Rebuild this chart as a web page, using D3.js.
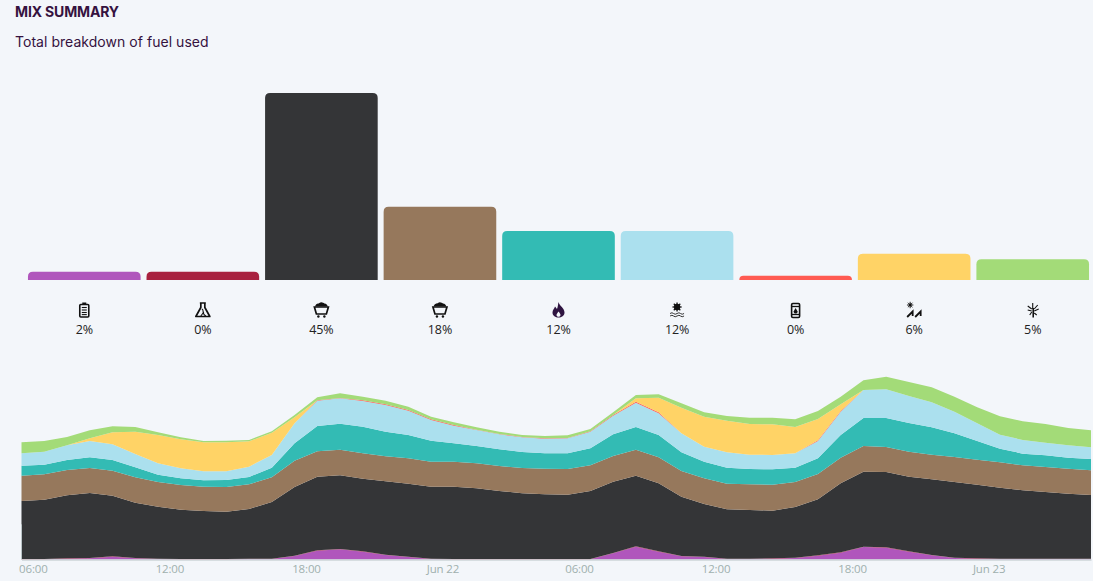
<!DOCTYPE html>
<html><head><meta charset="utf-8">
<script src="https://cdn.jsdelivr.net/npm/d3@7"></script>
<style>
html,body{margin:0;padding:0;background:#f3f6fa;overflow:hidden}
svg{display:block}
</style></head><body><svg id="c" width="1093" height="581"></svg>
<script>
const categories=["battery","chemical","coal","lignite","gas","hydro","oil","solar","wind"];
const sharePct=[2,2,45,17.6,11.8,11.8,1,6.3,5];
const shareLabels=["2%","0%","45%","18%","12%","12%","0%","6%","5%"];
const colors=["#b056bc","#a8213f","#343537","#96785c","#33bbb4","#abe0ee","#ff5b52","#ffd366","#a3db78"];
const tickHours=[6,12,18,24,30,36,42,48];
const tickLabels=["06:00","12:00","18:00","Jun 22","06:00","12:00","18:00","Jun 23"];
const battery=[0,0,2,3,8,3,1,0,0,0,1,1,10,26,30,23,13,7,1,0,0,0,0,0,0,0,18,38,23,9,7,1,1,2,4,11,20,37,35,23,12,4,2,1,1,1,1,1];
const chemical=[1,1,1,1,1,1,1,1,1,1,1,1,1,1,1,1,1,1,1,1,1,1,1,1,1,1,1,1,1,1,1,1,1,1,1,1,1,1,1,1,1,1,1,1,1,1,1,1];
const coal=[174,178,189,195,182,166,156,148,144,142,149,170,206,221,221,218,220,219,216,217,212,204,197,194,193,204,214,212,204,178,158,148,146,143,152,168,207,225,226,224,227,227,221,213,205,200,195,191];
const lignite=[76,76,76,75,75,76,74,74,73,74,74,74,79,76,77,76,75,76,75,75,75,75,76,77,77,77,77,78,78,77,77,77,77,78,75,76,77,77,75,75,74,75,75,76,75,75,75,74];
const gas=[30,29,30,32,32,30,22,20,19,21,22,29,52,76,78,80,74,70,63,55,52,50,48,46,47,51,65,68,67,56,50,48,46,46,43,47,68,84,87,86,82,71,56,41,35,35,33,34];
const hydro=[37,39,44,49,47,40,34,30,27,26,31,38,60,76,76,77,80,73,62,53,48,45,44,44,45,50,56,73,65,57,45,46,43,43,43,52,70,84,86,81,75,65,53,42,41,38,37,35];
const oil=[0,0,0,0,0,0,0,0,0,0,0,0,0,1,1,2,2,2,2,2,1,1,1,1,1,1,2,3,3,0,0,0,0,0,0,2,2,0,0,0,0,0,0,0,0,0,0,0];
const solar=[0,0,0,8,36,67,85,87,87,87,76,67,18,0,0,0,0,0,0,0,0,0,0,0,0,0,0,10,44,77,90,95,92,92,79,64,20,0,0,0,0,0,0,0,0,0,0,0];
const wind=[33,32,25,24,18,14,8,6,4,5,4,4,7,9,14,11,11,10,8,8,7,7,6,7,8,7,8,10,10,13,13,14,19,20,23,24,23,29,38,42,45,45,48,55,56,56,52,51];
const hours=battery.map((_,i)=>5.5+i);
const seriesArr=[battery,chemical,coal,lignite,gas,hydro,oil,solar,wind];

const svg=d3.select("#c");
const titleFont="Inter, 'Noto Sans', sans-serif";
svg.append("text").attr("x",15).attr("y",17).attr("fill","#35123f").attr("font-family",titleFont).attr("font-weight",700).attr("font-size",14).attr("letter-spacing",-0.15).text("MIX SUMMARY");
svg.append("text").attr("x",15).attr("y",47).attr("fill","#35123f").attr("font-family",titleFont).attr("font-size",14).attr("letter-spacing",0.04).text("Total breakdown of fuel used");

// bars
const xBar=d3.scaleBand().domain(categories).range([25,1092]).paddingInner(0.05).paddingOuter(0.025);
const yBar=d3.scaleLinear().domain([0,45]).range([280,93]);
const r=5;
svg.append("g").selectAll("path").data(categories).join("path")
 .attr("fill",(d,i)=>colors[i])
 .attr("d",(d,i)=>{const x0=xBar(d),x1=x0+xBar.bandwidth(),y0=yBar(0),y1=yBar(sharePct[i]);const q=Math.min(r,y0-y1);
   return `M${x0},${y0}V${y1+q}Q${x0},${y1} ${x0+q},${y1}H${x1-q}Q${x1},${y1} ${x1},${y1+q}V${y0}Z`;});

// icons
const icons={
 battery:g=>{g.append("rect").attr("x",-4.5).attr("y",-5.5).attr("width",9).attr("height",12.5).attr("rx",1).attr("fill","none").attr("stroke","#111").attr("stroke-width",1.6);
   g.append("rect").attr("x",-2).attr("y",-7.5).attr("width",4).attr("height",2).attr("fill","#111");
   [-2.5,0,2.5,4.6].forEach(y=>g.append("line").attr("x1",-2.5).attr("x2",2.5).attr("y1",y).attr("y2",y).attr("stroke","#111").attr("stroke-width",1.1));},
 chemical:g=>{g.append("path").attr("d","M-3,-7H3M-2,-7V-2.5L-7,6.5H7L2,-2.5V-7").attr("fill","none").attr("stroke","#111").attr("stroke-width",1.7).attr("stroke-linejoin","round");
   g.append("path").attr("d","M-1,-1C2,0 -2,3 3,6M1,2L-2,6").attr("fill","none").attr("stroke","#111").attr("stroke-width",1.1);},
 coal:g=>{g.append("path").attr("d","M-7,-3H7L5,4H-5Z").attr("fill","none").attr("stroke","#111").attr("stroke-width",1.7);
   g.append("path").attr("d","M-6.5,-3.5C-5,-7 -3,-6 -2,-7C0,-8.5 2,-7 3,-6.5C5,-6.5 6,-5 6.5,-3.5Z").attr("fill","#111");
   [-3,3].forEach(x=>g.append("circle").attr("cx",x).attr("cy",6.5).attr("r",1.2).attr("fill","#111"));},
 flame:g=>{g.append("path").attr("d","M0,-8C1,-4 6,-2 6,2.5C6,6 3,7.5 0,7.5C-3,7.5 -6,6 -6,2.5C-6,0 -4,-1.5 -3.5,-3.5C-2.5,-2.5 -2,-1.5 -1.5,-1C-0.5,-3 -0.5,-6 0,-8Z").attr("fill","#2e1440");
   g.append("path").attr("d","M0,1.5C1.2,3 2,4 2,5C2,6.2 1,6.8 0,6.8C-1,6.8 -2,6.2 -2,5C-2,4 -1,3 0,1.5Z").attr("fill","#f3f6fa");},
 hydro:g=>{g.append("circle").attr("cy",-3).attr("r",3.2).attr("fill","#111");
   d3.range(8).forEach(k=>{const a=k*Math.PI/4;g.append("line").attr("x1",0).attr("y1",-3).attr("x2",4.6*Math.cos(a)).attr("y2",-3+4.6*Math.sin(a)).attr("stroke","#111").attr("stroke-width",1.3);});
   g.append("path").attr("d","M-7,3.5Q-5,2 -3.5,3.5T0,3.5T3.5,3.5T7,3.5M-7,6Q-5,4.5 -3.5,6T0,6T3.5,6T7,6").attr("fill","none").attr("stroke","#333").attr("stroke-width",1);},
 oil:g=>{g.append("rect").attr("x",-4).attr("y",-6.5).attr("width",8).attr("height",14).attr("rx",1.2).attr("fill","none").attr("stroke","#111").attr("stroke-width",1.6);
   g.append("line").attr("x1",-4).attr("x2",4).attr("y1",-3.5).attr("y2",-3.5).attr("stroke","#111").attr("stroke-width",1.3);
   g.append("line").attr("x1",-4).attr("x2",4).attr("y1",4.5).attr("y2",4.5).attr("stroke","#111").attr("stroke-width",1.3);
   g.append("path").attr("d","M0,-2L2,1.5C2,3 1,3.5 0,3.5C-1,3.5 -2,3 -2,1.5Z").attr("fill","#111");},
 solar:g=>{g.append("circle").attr("cx",-4).attr("cy",-5).attr("r",1.4).attr("fill","#111");
   d3.range(8).forEach(k=>{const a=k*Math.PI/4;g.append("line").attr("x1",-4).attr("y1",-5).attr("x2",-4+3.2*Math.cos(a)).attr("y2",-5+3.2*Math.sin(a)).attr("stroke","#111").attr("stroke-width",.9);});
   g.append("path").attr("d","M-7,7L-1.5,1.5V6M1,7L6.5,1.5V6").attr("fill","none").attr("stroke","#111").attr("stroke-width",1.8);},
 wind:g=>{g.append("line").attr("x1",0.5).attr("x2",0.5).attr("y1",-2).attr("y2",7.5).attr("stroke","#111").attr("stroke-width",1.6);
   g.append("path").attr("d","M0,-7V-1M-1,-1L-5,-4M-1,1L-5,0M-1,2L-3,5M1.5,-1L5,-5M1.5,1L6,-1M1.5,3L4,5").attr("fill","none").attr("stroke","#111").attr("stroke-width",1.1);}
};
const iconKey=["battery","chemical","coal","coal","flame","hydro","oil","solar","wind"];
const cell=svg.append("g").selectAll("g").data(categories).join("g")
 .attr("transform",d=>`translate(${xBar(d)+xBar.bandwidth()/2},0)`);
cell.each(function(d,i){const g=d3.select(this).append("g").attr("transform","translate(0,310)");icons[iconKey[i]](g);});
cell.append("text").attr("text-anchor","middle").attr("y",334).attr("font-family","'Open Sans', sans-serif").attr("font-size",12.5).attr("letter-spacing",-0.1).attr("fill","#222").text((d,i)=>shareLabels[i]);

// stacked area
const rows=hours.map((h,i)=>{const o={h};categories.forEach((c,k)=>o[c]=seriesArr[k][i]);return o;});
const stack=d3.stack().keys(categories)(rows);
const xT=d3.scaleLinear().domain([5.5,52.5]).range([21.5,1091]);
const yA=d3.scaleLinear().domain([0,540]).range([559.3,379.3]);
const area=d3.area().x(d=>xT(d.data.h)).y0(d=>yA(d[0])).y1(d=>yA(d[1]));
svg.append("g").selectAll("path").data(stack).join("path").attr("fill",(d,i)=>colors[i]).attr("d",area);

const axis=d3.axisBottom(xT).tickValues(tickHours).tickSize(0).tickPadding(5).tickFormat((d,i)=>tickLabels[i]);
const ax=svg.append("g").attr("transform","translate(0,559.5)").call(axis);
ax.select(".domain").attr("stroke","#b9c3c6").attr("stroke-width",1);
ax.selectAll("text").attr("fill","#9fb0ae").attr("font-family","'Open Sans', sans-serif").attr("font-size",11.5).attr("letter-spacing",-0.15);
svg.append("line").attr("x1",21.5).attr("x2",21.5).attr("y1",yA(105)).attr("y2",559.5).attr("stroke","#b9c3c6");
</script></body></html>
